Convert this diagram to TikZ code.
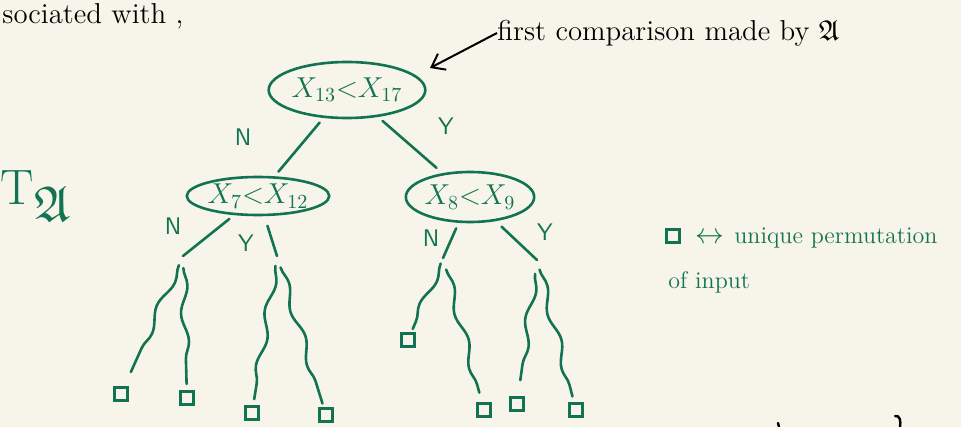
\documentclass[tikz,border=0pt]{standalone}
\usepackage{amssymb}
\usetikzlibrary{shapes.geometric,decorations.pathmorphing,arrows.meta,calc}
\definecolor{ink}{RGB}{18,115,82}
\definecolor{paper}{RGB}{247,245,234}
\begin{document}
\begin{tikzpicture}[x=0.5pt,y=-0.5pt]
\tikzstyle{every node}+=[inner sep=0pt]
\tikzstyle{cmp}=[ellipse, draw=ink, line width=1.3pt, text=ink, font=\Large]
\tikzstyle{leaf}=[draw=ink, line width=1.2pt, minimum size=6.5pt]
\tikzstyle{lbl}=[text=ink, font=\large\sffamily]
\tikzstyle{edge}=[draw=ink, line width=1.3pt, line cap=round]
\tikzstyle{wig}=[edge, decorate, decoration={snake, amplitude=1.8pt, segment length=28pt}]
\fill [paper] (0,0) rectangle (961,427);
\useasboundingbox (0,0) rectangle (961,427);
% text at the top
\node [anchor=base west, font=\Large] (head) at (2,24) {sociated with ,};
% comparison nodes
\node [cmp, minimum width=75pt, minimum height=28pt] (root) at (347,90) {$X_{13}{<}X_{17}$};
\node [cmp, minimum width=50pt, minimum height=19pt] (lc) at (258,196) {$X_{7}{<}X_{12}$};
\node [cmp, minimum width=52.5pt, minimum height=25pt] (rc) at (470,197) {$X_{8}{<}X_{9}$};
\draw [edge, shorten <=3pt, shorten >=3pt] (root) -- (lc);
\draw [edge, shorten <=3pt, shorten >=4pt] (root) -- (rc);
\node [lbl] (rootN) at (243,137) {N};
\node [lbl] (rootY) at (446,126) {Y};
% note with arrow
\node [anchor=west, font=\Large] (fc) at (497,33) {first comparison made by $\mathfrak{A}$};
\coordinate (fcTip) at (430,68);
\draw [line width=1pt, -{Straight Barb[length=6pt,width=9pt]}] (fc.west) -- (fcTip);
% second level stubs
\coordinate (lcN) at (183,256);
\coordinate (lcY) at (277,256);
\coordinate (rcN) at (443,258);
\coordinate (rcY) at (537,260);
\draw [edge, shorten <=3pt] (lc) -- (lcN);
\draw [edge, shorten <=5pt] (lc) -- (lcY);
\draw [edge, shorten <=3pt] (rc) -- (rcN);
\draw [edge, shorten <=4pt] (rc) -- (rcY);
\node [lbl] (lcNl) at (173,226) {N};
\node [lbl] (lcYl) at (246,243) {Y};
\node [lbl] (rcNl) at (431,238) {N};
\node [lbl] (rcYl) at (545,232) {Y};
% leaves
\node [leaf] (sq1) at (121,394) {};
\node [leaf] (sq2) at (187,398) {};
\node [leaf] (sq3) at (252,413) {};
\node [leaf] (sq4) at (326,415) {};
\node [leaf] (sq5) at (408,340) {};
\node [leaf] (sq6) at (484,410) {};
\node [leaf] (sq7) at (517,404) {};
\node [leaf] (sq8) at (576,410) {};
\draw [wig] ($(lcN)!5pt!(sq1)$) -- ($(sq1)!12pt!(lcN)$);
\draw [wig] ($(lcN)!6pt!(sq2)$) -- ($(sq2)!7pt!(lcN)$);
\draw [wig] ($(lcY)!5pt!(sq3)$) -- ($(sq3)!7pt!(lcY)$);
\draw [wig] ($(lcY)!6pt!(sq4)$) -- ($(sq4)!6pt!(lcY)$);
\draw [wig] ($(rcN)!3pt!(sq5)$) -- ($(sq5)!6pt!(rcN)$);
\draw [wig] ($(rcN)!6pt!(sq6)$) -- ($(sq6)!9pt!(rcN)$);
\draw [wig] ($(rcY)!7pt!(sq7)$) -- ($(sq7)!12pt!(rcY)$);
\draw [wig] ($(rcY)!5pt!(sq8)$) -- ($(sq8)!7pt!(rcY)$);
% tree name
\node [text=ink, font=\fontsize{36}{38}\selectfont] (tree) at (36,196) {$\mathrm{T}_{\mathfrak{A}}$};
% legend
\node [leaf] (key) at (673,236) {};
\node [lbl, font=\Large] (keyarr) at (710,238) {$\leftrightarrow$};
\node [lbl, anchor=west, font=\large] (perm) at (734,238) {unique permutation};
\node [lbl, anchor=west, font=\large] (inp) at (668,282) {of input};
% cut off strokes at the bottom
\draw [line width=1.2pt, line cap=round] (778,423) -- (779,427);
\draw [line width=1.2pt, line cap=round] (895,416) .. controls (900,415) and (901,421) .. (900,427);
\end{tikzpicture}
\end{document}
